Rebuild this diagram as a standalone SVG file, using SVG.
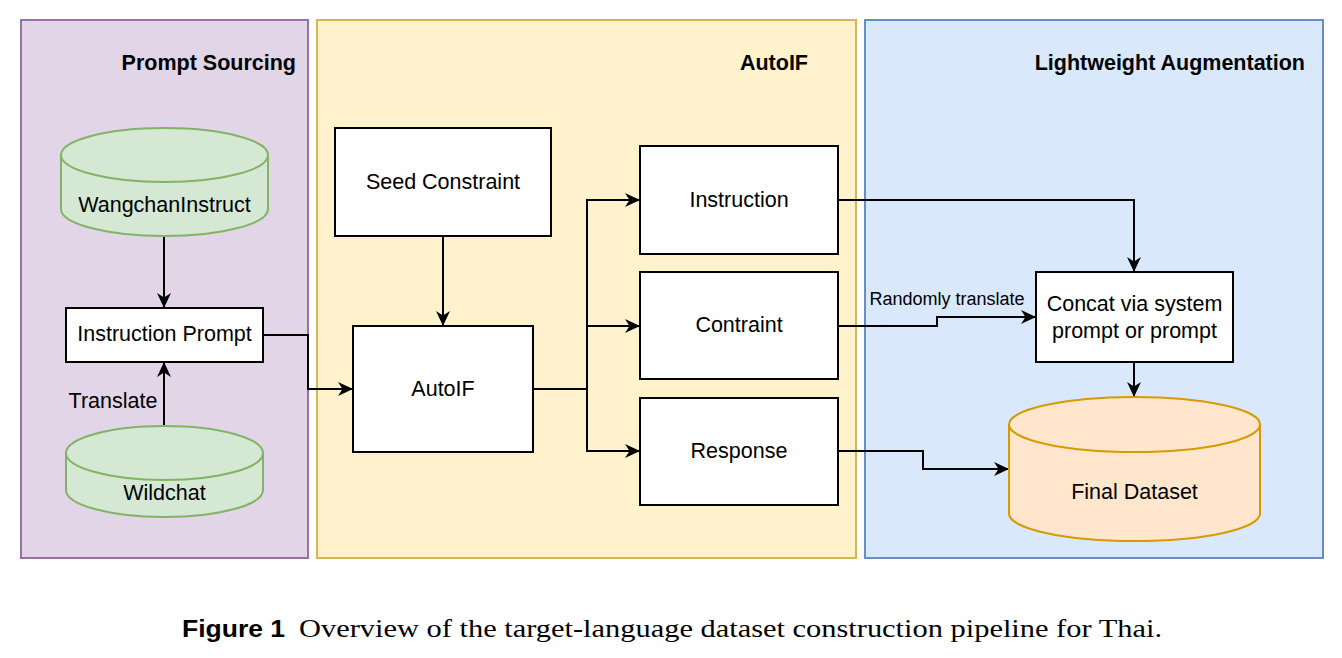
<svg xmlns="http://www.w3.org/2000/svg" width="1342" height="658" viewBox="0 0 1342 658">
<defs>
<style>
.t{font-family:"Liberation Sans",Arial,sans-serif;font-size:21.5px;fill:#000;text-anchor:middle;dominant-baseline:central}
.h{font-family:"Liberation Sans",Arial,sans-serif;font-size:21.5px;font-weight:bold;fill:#000;text-anchor:end;dominant-baseline:central}
.box{fill:#fff;stroke:#000;stroke-width:2}
.cg{fill:#d5e8d4;stroke:#82b366;stroke-width:2}
.co{fill:#ffe6cc;stroke:#d79b00;stroke-width:2}
.e{fill:none;stroke:#000;stroke-width:2;marker-end:url(#a)}
</style>
<marker id="a" markerUnits="userSpaceOnUse" viewBox="0 0 15 14" refX="15" refY="7" markerWidth="15" markerHeight="14" orient="auto">
<path d="M0,0 L15,7 L0,14 L4.5,7 Z" fill="#000"/>
</marker>
</defs>
<rect width="1342" height="658" fill="#fff"/>
<g id="panel-prompt-sourcing">
<rect x="21" y="20" width="287" height="538" fill="#e1d5e7" stroke="#9673a6" stroke-width="2"/>
<text class="h" x="296" y="63">Prompt Sourcing</text>
</g>
<g id="panel-autoif">
<rect x="317" y="20" width="539" height="538" fill="#fff2cc" stroke="#d6b656" stroke-width="2"/>
<text class="h" x="808" y="63">AutoIF</text>
</g>
<g id="panel-augmentation">
<rect x="865" y="20" width="458" height="538" fill="#dae8fc" stroke="#6c8ebf" stroke-width="2"/>
<text class="h" x="1305" y="63">Lightweight Augmentation</text>
</g>
<g id="connectors">
<path class="e" d="M164,236 L164,308"/>
<path class="e" d="M164,426 L164,362"/>
<text class="t" x="113" y="401">Translate</text>
<path class="e" d="M263,335 L308,335 L308,389 L353,389"/>
<path class="e" d="M443,236 L443,326"/>
<path fill="none" stroke="#000" stroke-width="2" d="M533,389 L587,389"/>
<path class="e" d="M587,389 L587,200 L640,200"/>
<path class="e" d="M587,389 L587,326 L640,326"/>
<path class="e" d="M587,389 L587,451 L640,451"/>
<path class="e" d="M838,200 L1134,200 L1134,272"/>
<path class="e" d="M838,326 L937,326 L937,317 L1036,317"/>
<text class="t" x="947" y="299" style="font-size:18px">Randomly translate</text>
<path class="e" d="M838,451 L923,451 L923,469 L1009,469"/>
<path class="e" d="M1134,362 L1134,397"/>
</g>
<g id="node-wangchaninstruct">
<path class="cg" d="M61,155 A103.5,27 0 0 1 268,155 L268,209 A103.5,27 0 0 1 61,209 Z"/>
<path class="cg" style="fill:none" d="M61,155 A103.5,27 0 0 0 268,155"/>
<text class="t" x="164.5" y="205">WangchanInstruct</text>
</g>
<g id="node-instruction-prompt">
<rect class="box" x="66" y="308" width="197" height="54"/>
<text class="t" x="164.5" y="334">Instruction Prompt</text>
</g>
<g id="node-wildchat">
<path class="cg" d="M66,453 A98.5,27 0 0 1 263,453 L263,490 A98.5,27 0 0 1 66,490 Z"/>
<path class="cg" style="fill:none" d="M66,453 A98.5,27 0 0 0 263,453"/>
<text class="t" x="164.5" y="493">Wildchat</text>
</g>
<g id="node-seed-constraint">
<rect class="box" x="335" y="128" width="216" height="108"/>
<text class="t" x="443" y="182">Seed Constraint</text>
</g>
<g id="node-autoif">
<rect class="box" x="353" y="326" width="180" height="126"/>
<text class="t" x="443" y="389">AutoIF</text>
</g>
<g id="node-instruction">
<rect class="box" x="640" y="146" width="198" height="108"/>
<text class="t" x="739" y="200">Instruction</text>
</g>
<g id="node-contraint">
<rect class="box" x="640" y="272" width="198" height="107"/>
<text class="t" x="739" y="325">Contraint</text>
</g>
<g id="node-response">
<rect class="box" x="640" y="398" width="198" height="107"/>
<text class="t" x="739" y="451">Response</text>
</g>
<g id="node-concat">
<rect class="box" x="1036" y="272" width="197" height="90"/>
<text class="t" x="1134.5" y="304">Concat via system</text>
<text class="t" x="1134.5" y="331">prompt or prompt</text>
</g>
<g id="node-final-dataset">
<path class="co" d="M1009,424.5 A125.5,27.5 0 0 1 1260,424.5 L1260,513.5 A125.5,27.5 0 0 1 1009,513.5 Z"/>
<path class="co" style="fill:none" d="M1009,424.5 A125.5,27.5 0 0 0 1260,424.5"/>
<text class="t" x="1134.5" y="492">Final Dataset</text>
</g>
<g id="caption">
<text x="182" y="637" font-family="'Liberation Sans',Arial,sans-serif" font-weight="bold" font-size="24" textLength="103" lengthAdjust="spacingAndGlyphs">Figure 1</text>
<text x="299" y="637" font-family="'Liberation Serif','Times New Roman',serif" font-size="25" textLength="863" lengthAdjust="spacingAndGlyphs">Overview of the target-language dataset construction pipeline for Thai.</text>
</g>
</svg>
